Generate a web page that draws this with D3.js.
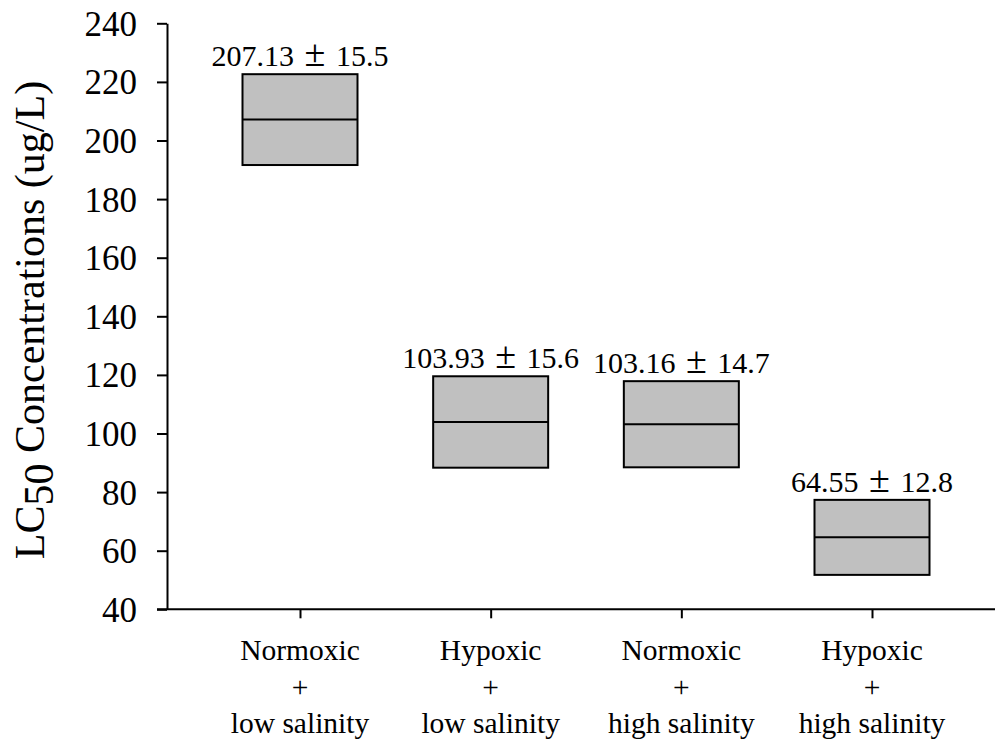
<!DOCTYPE html>
<html>
<head>
<meta charset="utf-8">
<script src="https://cdn.jsdelivr.net/npm/d3@7"></script>
<style>
  html, body { margin: 0; padding: 0; background: #fff; }
  svg { display: block; }
  svg text { font-family: "Liberation Serif", "Times New Roman", serif !important; fill: #000; }
</style>
</head>
<body>
<svg id="chart" width="995" height="744"></svg>
<script>
// LC50 by treatment: mean ± SD
const categories = [
  ["Normoxic", "+", "low salinity"],
  ["Hypoxic", "+", "low salinity"],
  ["Normoxic", "+", "high salinity"],
  ["Hypoxic", "+", "high salinity"]
];
const means = [207.13, 103.93, 103.16, 64.55];
const sds = [15.5, 15.6, 14.7, 12.8];
const yTicks = [40, 60, 80, 100, 120, 140, 160, 180, 200, 220, 240];

const serif = '"Liberation Serif", "Times New Roman", serif';
const svg = d3.select("#chart");
const yTop = 23.3, yBottom = 609.3, axisX = 167;

const y = d3.scaleLinear().domain([40, 240]).range([yBottom, yTop]);
const keys = categories.map((c, i) => i);
const x = d3.scalePoint().domain(keys).range([300, 872]);
const boxW = 115;

// y axis
const yAxis = svg.append("g")
  .attr("transform", `translate(${axisX},0)`)
  .call(d3.axisLeft(y).tickValues(yTicks).tickSize(10).tickSizeOuter(0).tickPadding(20));
yAxis.attr("font-family", null);
yAxis.selectAll("path, line").attr("stroke", "#000").attr("stroke-width", 2);
yAxis.selectAll("text")
  .style("font-family", serif)
  .attr("font-size", 35)
  .attr("dy", "0.34em");

// x axis baseline runs to the right edge
svg.append("line")
  .attr("x1", axisX - 10).attr("x2", 995)
  .attr("y1", y(40)).attr("y2", y(40))
  .attr("stroke", "#000").attr("stroke-width", 2);

const xAxis = svg.append("g")
  .attr("transform", `translate(0,${y(40)})`)
  .call(d3.axisBottom(x).tickSize(9).tickFormat(""));
xAxis.select(".domain").remove();
xAxis.selectAll("line").attr("stroke", "#000").attr("stroke-width", 2);

// category labels (three lines each)
const lineY = [660, 696.5, 733.3];
const catG = svg.append("g");
categories.forEach((lines, i) => {
  const t = catG.append("text")
    .style("font-family", serif)
    .attr("text-anchor", "middle")
    .attr("font-size", 29.5);
  lines.forEach((s, j) => {
    t.append("tspan").attr("x", x(i)).attr("y", lineY[j]).text(s);
  });
});

// boxes: mean ± SD with a line at the mean
const boxes = svg.append("g");
means.forEach((m, i) => {
  const top = y(m + sds[i]), bot = y(m - sds[i]);
  boxes.append("rect")
    .attr("x", x(i) - boxW / 2).attr("y", top)
    .attr("width", boxW).attr("height", bot - top)
    .attr("fill", "#c0c0c0").attr("stroke", "#000").attr("stroke-width", 2);
  boxes.append("line")
    .attr("x1", x(i) - boxW / 2).attr("x2", x(i) + boxW / 2)
    .attr("y1", y(m)).attr("y2", y(m))
    .attr("stroke", "#000").attr("stroke-width", 2);
  const t = boxes.append("text")
    .style("font-family", serif)
    .attr("x", x(i)).attr("y", top - 8)
    .attr("text-anchor", "middle")
    .attr("font-size", 30)
    .attr("word-spacing", 3);
  t.append("tspan").text(`${m.toFixed(2)} `);
  t.append("tspan").attr("font-size", 38).text("\u00B1");
  t.append("tspan").text(` ${sds[i].toFixed(1)}`);
});

// y axis title with subscript
const title = svg.append("text")
  .style("font-family", serif)
  .attr("transform", "translate(44,320) rotate(-90)")
  .attr("text-anchor", "middle")
  .attr("font-size", 42);
title.append("tspan").text("LC");
title.append("tspan").attr("dy", 9).text("50");
title.append("tspan").attr("dy", -9).text(" Concentrations (ug/L)");
</script>
</body>
</html>
